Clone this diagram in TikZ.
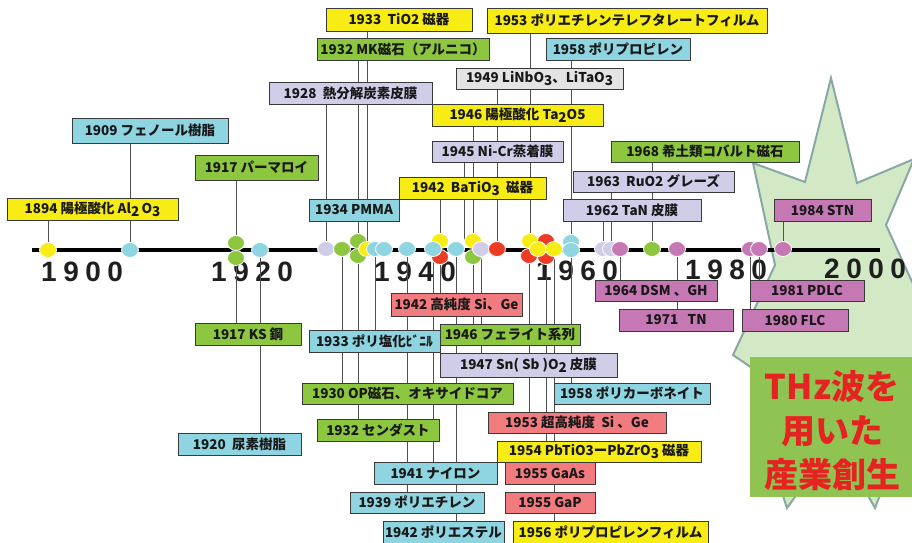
\documentclass[tikz,border=0pt]{standalone}
\usepackage{fontspec}
\setmainfont{Noto Sans CJK JP}
\newfontfamily\yearfont{Liberation Sans}
\usetikzlibrary{shapes.geometric}
\definecolor{cyel}{HTML}{F7EC13}
\definecolor{ccya}{HTML}{8FD4E1}
\definecolor{cgrn}{HTML}{8DC63F}
\definecolor{clav}{HTML}{D0CDE8}
\definecolor{csal}{HTML}{F27B7F}
\definecolor{cmag}{HTML}{C678B4}
\definecolor{cgry}{HTML}{E4E4E4}
\definecolor{cred}{HTML}{EE3B24}
\definecolor{boxline}{HTML}{3A3A3A}
\definecolor{connline}{HTML}{505050}
\definecolor{starfill}{HTML}{D3E9C6}
\definecolor{starline}{HTML}{87A8A6}
\definecolor{thzfill}{HTML}{8FC453}
\definecolor{thztext}{HTML}{E52421}
\pgfdeclarelayer{back}
\pgfdeclarelayer{mid}
\pgfsetlayers{back,mid,main}
\tikzset{
 box/.style={draw=boxline, line width=0.9pt, inner sep=0pt, font=\bfseries\fontsize{13.5}{15}\selectfont, text=black!90},
 dotn/.style={ellipse, draw=white, line width=0.8pt, minimum width=17pt, minimum height=15pt, inner sep=0pt},
 conn/.style={draw=connline, line width=0.9pt},
 yearlbl/.style={font=\yearfont\bfseries\fontsize{28}{30}\selectfont, text=black!88, inner sep=0pt, anchor=base west},
 axisline/.style={line width=4.5pt, draw=black},
 starshape/.style={fill=starfill, draw=starline, line width=2pt, line join=miter},
 thzbox/.style={fill=thzfill, draw=none, inner sep=0pt},
 thzlbl/.style={font=\bfseries\fontsize{34}{44}\selectfont, text=thztext, align=center, inner sep=0pt}
}
\newcommand\lo[1]{\raisebox{-0.22em}{#1}}
\newcommand\mkbox[7]{\node[box, fill=#2, minimum width={(#5-#3)*1pt}, minimum height={(#6-#4)*1pt}] (#1) at ({(#3+#5)/2},{(#4+#6)/2}) {#7};}
\newcommand\mkdot[4]{\node[dotn, fill=#2] (#1) at (#3,#4) {};}
\newcommand\cnU[2]{\draw[conn] (#2.south -| #1) -- (#1);}
\newcommand\cnD[2]{\draw[conn] (#1) -- (#1 |- #2.north);}
\begin{document}
\begin{tikzpicture}[x=1pt,y=-1pt]
\useasboundingbox (0,0) rectangle (912,542);
% background star
\begin{pgfonlayer}{back}
\draw[starshape] (753,163) -- (805,182) -- (831,78) -- (857,183) -- (914,159) -- (886,225) -- (925,310) -- (925,480) -- (880,495) -- (875,508) -- (866,492) -- (840,480) -- (800,490) -- (787,508) -- (781,490) -- (760,470) -- (752,368) -- (733,355) -- (775,265) -- cycle;
\node[thzbox, minimum width=162pt, minimum height=140pt, anchor=north west] (thz) at (750,357) {};
\node[thzlbl] (thzt) at (832,431) {THz波を\\用いた\\産業創生};
\end{pgfonlayer}
% axis
\coordinate (axL) at (32,250);
\coordinate (axR) at (880,250);
\draw[axisline] (axL) -- (axR);
% dots
\mkdot{d1894}{cyel}{48}{250}
\mkdot{d1909}{ccya}{130}{250}
\mkdot{d1917a}{cgrn}{236}{243}
\mkdot{d1917b}{cgrn}{236}{258}
\mkdot{d1920}{ccya}{260}{250}
\mkdot{d1928}{clav}{326}{249}
\mkdot{d1930}{cgrn}{342}{249}
\mkdot{d1932a}{cgrn}{358}{241}
\mkdot{d1932b}{cgrn}{358}{256}
\mkdot{d1933y}{cyel}{367}{249}
\mkdot{d1933c}{ccya}{375}{249}
\mkdot{d1934}{ccya}{384}{249}
\mkdot{d1939}{ccya}{407}{249}
\mkdot{d1942y}{cyel}{440}{241}
\mkdot{d1942r}{cred}{440}{257}
\mkdot{d1941}{ccya}{433}{249}
\mkdot{d1942c}{ccya}{456}{249}
\mkdot{d1946y}{cyel}{473}{241}
\mkdot{d1946g}{cgrn}{473}{257}
\mkdot{d1947}{clav}{481}{249}
\mkdot{d1949}{cred}{497}{249}
\mkdot{d1953y}{cyel}{530}{241}
\mkdot{d1953x}{cred}{546}{241}
\mkdot{d1953r}{cred}{529}{256}
\mkdot{d1954}{cred}{546}{257}
\mkdot{d1955}{cyel}{538}{249}
\mkdot{d1956}{cyel}{554}{249}
\mkdot{d1958a}{ccya}{571}{242}
\mkdot{d1958b}{ccya}{571}{250}
\mkdot{d1962}{clav}{603}{249}
\mkdot{d1963}{clav}{611}{249}
\mkdot{d1964}{cmag}{620}{249}
\mkdot{d1968}{cgrn}{652}{249}
\mkdot{d1971}{cmag}{677}{249}
\mkdot{d1980}{cmag}{750}{249}
\mkdot{d1981}{cmag}{759}{249}
\mkdot{d1984}{cmag}{783}{249}
\coordinate (a1945) at (464,241);
% boxes above the axis
\mkbox{b1894}{cyel}{7}{198}{178}{220}{1894 陽極酸化 Al\lo{2}\,O\lo{3}}
\mkbox{b1909}{ccya}{72}{118}{228}{143}{1909 フェノール樹脂}
\mkbox{b1917p}{cgrn}{195}{155}{318}{180}{1917 パーマロイ}
\mkbox{b1928}{clav}{269}{82}{432}{104}{1928 \ 熱分解炭素皮膜}
\mkbox{b1933t}{cyel}{326}{8}{472}{31}{1933 \ TiO2 磁器}
\mkbox{b1932mk}{cgrn}{317}{38}{489}{60}{1932 MK磁石（アルニコ）}
\mkbox{b1934}{ccya}{309}{199}{399}{221}{1934 PMMA}
\mkbox{b1953p}{cyel}{487}{8}{767}{33}{1953 ポリエチレンテレフタレートフィルム}
\mkbox{b1958p}{ccya}{546}{38}{690}{60}{1958 ポリプロピレン}
\mkbox{b1949}{cgry}{456}{68}{623}{89}{1949 LiNbO\lo{3}、LiTaO\lo{3}}
\mkbox{b1946t}{cyel}{432}{104}{603}{126}{1946 陽極酸化 Ta\lo{2}O5}
\mkbox{b1945}{clav}{432}{141}{563}{162}{1945 Ni-Cr蒸着膜}
\mkbox{b1942b}{cyel}{399}{177}{546}{199}{1942 \ BaTiO\lo{3} \ 磁器}
\mkbox{b1968}{cgrn}{611}{141}{799}{162}{1968 希土類コバルト磁石}
\mkbox{b1963}{clav}{573}{171}{734}{192}{1963 \ RuO2 グレーズ}
\mkbox{b1962}{clav}{563}{199}{701}{221}{1962 TaN 皮膜}
\mkbox{b1984}{cmag}{774}{199}{871}{221}{1984 STN}
% boxes below the axis
\mkbox{b1917k}{cgrn}{195}{323}{301}{345}{1917 KS 鋼}
\mkbox{b1920}{ccya}{178}{433}{301}{455}{1920 \ 尿素樹脂}
\mkbox{b1942s}{csal}{391}{293}{522}{316}{1942 高純度 Si、Ge}
\mkbox{b1933v}{ccya}{309}{330}{440}{352}{1933 ポリ塩化ﾋﾞﾆﾙ}
\mkbox{b1946f}{cgrn}{440}{324}{580}{345}{1946 フェライト系列}
\mkbox{b1947}{clav}{440}{353}{617}{377}{1947 Sn( Sb )O\lo{2} 皮膜}
\mkbox{b1930}{cgrn}{302}{383}{513}{404}{1930 OP磁石、オキサイドコア}
\mkbox{b1958c}{ccya}{554}{383}{710}{404}{1958 ポリカーボネイト}
\mkbox{b1932s}{cgrn}{317}{419}{439}{441}{1932 センダスト}
\mkbox{b1953s}{csal}{488}{412}{666}{433}{1953 超高純度 \ Si 、Ge}
\mkbox{b1954}{cyel}{497}{441}{701}{462}{1954 PbTiO3ーPbZrO\lo{3} 磁器}
\mkbox{b1941}{ccya}{374}{462}{497}{484}{1941 ナイロン}
\mkbox{b1955a}{csal}{505}{462}{595}{484}{1955 GaAs}
\mkbox{b1939}{ccya}{350}{492}{484}{513}{1939 ポリエチレン}
\mkbox{b1955p}{csal}{505}{492}{595}{513}{1955 GaP}
\mkbox{b1942e}{ccya}{383}{521}{504}{543}{1942 ポリエステル}
\mkbox{b1956}{cyel}{513}{521}{708}{543}{1956 ポリプロピレンフィルム}
\mkbox{b1964}{cmag}{595}{280}{717}{301}{1964 DSM 、GH}
\mkbox{b1971}{cmag}{619}{309}{733}{331}{1971 \ \ TN}
\mkbox{b1981}{cmag}{750}{280}{864}{301}{1981 PDLC}
\mkbox{b1980}{cmag}{742}{309}{848}{331}{1980 FLC}
% year labels and connectors
\begin{pgfonlayer}{mid}
\node[yearlbl] (y1900) at (41,281) {1\hspace{6.5pt}9\hspace{6.5pt}0\hspace{6.5pt}0};
\node[yearlbl] (y1920) at (211,281) {1\hspace{6.5pt}9\hspace{6.5pt}2\hspace{6.5pt}0};
\node[yearlbl] (y1940) at (374,281) {1\hspace{6.5pt}9\hspace{6.5pt}4\hspace{6.5pt}0};
\node[yearlbl] (y1960) at (536,280) {1\hspace{6.5pt}9\hspace{6.5pt}6\hspace{6.5pt}0};
\node[yearlbl] (y1980) at (685,279) {1\hspace{6.5pt}9\hspace{6.5pt}8\hspace{6.5pt}0};
\node[yearlbl] (y2000) at (824,278) {2\hspace{6.5pt}0\hspace{6.5pt}0\hspace{6.5pt}0};
\cnU{d1894}{b1894}
\cnU{d1909}{b1909}
\cnU{d1917a}{b1917p}
\cnU{d1928}{b1928}
\cnU{d1932a}{b1932mk}
\cnU{d1933y}{b1933t}
\cnU{d1942y}{b1942b}
\cnU{a1945}{b1945}
\cnU{d1946y}{b1946t}
\cnU{d1949}{b1949}
\cnU{d1953y}{b1953p}
\cnU{d1958a}{b1958p}
\cnU{d1962}{b1962}
\cnU{d1963}{b1963}
\cnU{d1968}{b1968}
\cnU{d1984}{b1984}
\cnD{d1917b}{b1917k}
\cnD{d1920}{b1920}
\cnD{d1930}{b1930}
\cnD{d1932b}{b1932s}
\cnD{d1933c}{b1933v}
\cnD{d1939}{b1939}
\cnD{d1941}{b1941}
\cnD{d1942r}{b1942s}
\cnD{d1942c}{b1942e}
\cnD{d1946g}{b1946f}
\cnD{d1947}{b1947}
\cnD{d1953r}{b1953s}
\cnD{d1954}{b1954}
\cnD{d1956}{b1956}
\cnD{d1958b}{b1958c}
\cnD{d1964}{b1964}
\cnD{d1971}{b1971}
\cnD{d1980}{b1980}
\cnD{d1981}{b1981}
\end{pgfonlayer}
\end{tikzpicture}
\end{document}
